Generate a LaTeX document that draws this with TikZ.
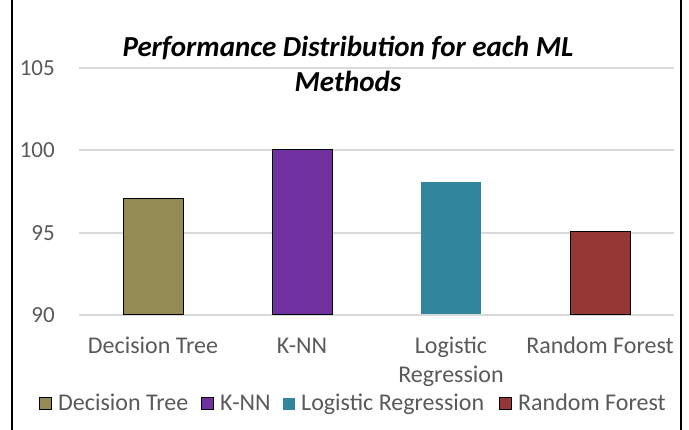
\documentclass[tikz,border=0pt]{standalone}
\usepackage{fontspec}
\setmainfont{Carlito}
\definecolor{gridgray}{HTML}{D9D9D9}
\definecolor{labelgray}{HTML}{595959}
\definecolor{cDT}{HTML}{948A54}
\definecolor{cKNN}{HTML}{7030A0}
\definecolor{cLR}{HTML}{31859C}
\definecolor{cRF}{HTML}{953735}
\begin{document}
\begin{tikzpicture}[x=1pt,y=-1pt,
  gridline/.style={draw=gridgray, line width=2pt},
  lbl/.style={text=labelgray, font=\fontsize{24}{29}\selectfont, inner sep=0pt},
  ylbl/.style={text=labelgray, font=\fontsize{23}{29}\selectfont, inner sep=0pt, anchor=east},
  bar/.style={draw=black, line width=1pt, minimum width=60pt, anchor=south, inner sep=0pt},
  legbox/.style={draw=black, line width=1pt, minimum width=12pt, minimum height=12pt, inner sep=0pt, anchor=west},
  frameline/.style={draw=black, line width=2pt}]
\useasboundingbox (0,0) rectangle (689,430);
% frame sides
\coordinate (lt) at (12,0); \coordinate (lb) at (12,430);
\coordinate (rt) at (681,0); \coordinate (rb) at (681,430);
\draw[frameline] (lt) -- (lb);
\draw[frameline] (rt) -- (rb);
% grid
\foreach \v/\y in {90/315,95/233.5,100/150.5,105/68}{
  \coordinate (gl\v) at (79,\y);
  \coordinate (gr\v) at (674,\y);
  \draw[gridline] (gl\v) -- (gr\v);
  \node[ylbl] (y\v) at (55,\y) {\v};
}
% bars
\node[bar, fill=cDT, minimum height=115.5pt] (b1) at (153,315) {};
\node[bar, fill=cKNN, minimum height=165pt] (b2) at (302,315) {};
\node[bar, fill=cLR, draw=none, minimum height=132pt] (b3) at (451,315) {};
\node[bar, fill=cRF, minimum height=82.5pt] (b4) at (600,315) {};
% category labels
\node[lbl, anchor=base] (x1) at (153,354) {Decision Tree};
\node[lbl, anchor=base] (x2) at (302,354) {K-NN};
\node[lbl, anchor=base] (x3a) at (451,354) {Logistic};
\node[lbl, anchor=base] (x3b) at (451,383) {Regression};
\node[lbl, anchor=base] (x4) at (600,354) {Random Forest};
% title
\node[font=\fontsize{29}{35}\selectfont\bfseries\itshape, align=center, inner sep=0pt] (title) at (348,64) {Performance Distribution for each ML\\Methods};
% legend
\node[legbox, fill=cDT] (l1) at (39,404) {};
\node[lbl, anchor=base west] (t1) at (58,410.5) {Decision Tree};
\node[legbox, fill=cKNN] (l2) at (201,404) {};
\node[lbl, anchor=base west] (t2) at (220,410.5) {K-NN};
\node[legbox, fill=cLR, draw=none] (l3) at (282,404) {};
\node[lbl, anchor=base west] (t3) at (301,410.5) {Logistic Regression};
\node[legbox, fill=cRF] (l4) at (499,404) {};
\node[lbl, anchor=base west] (t4) at (518,410.5) {Random Forest};
\end{tikzpicture}
\end{document}
